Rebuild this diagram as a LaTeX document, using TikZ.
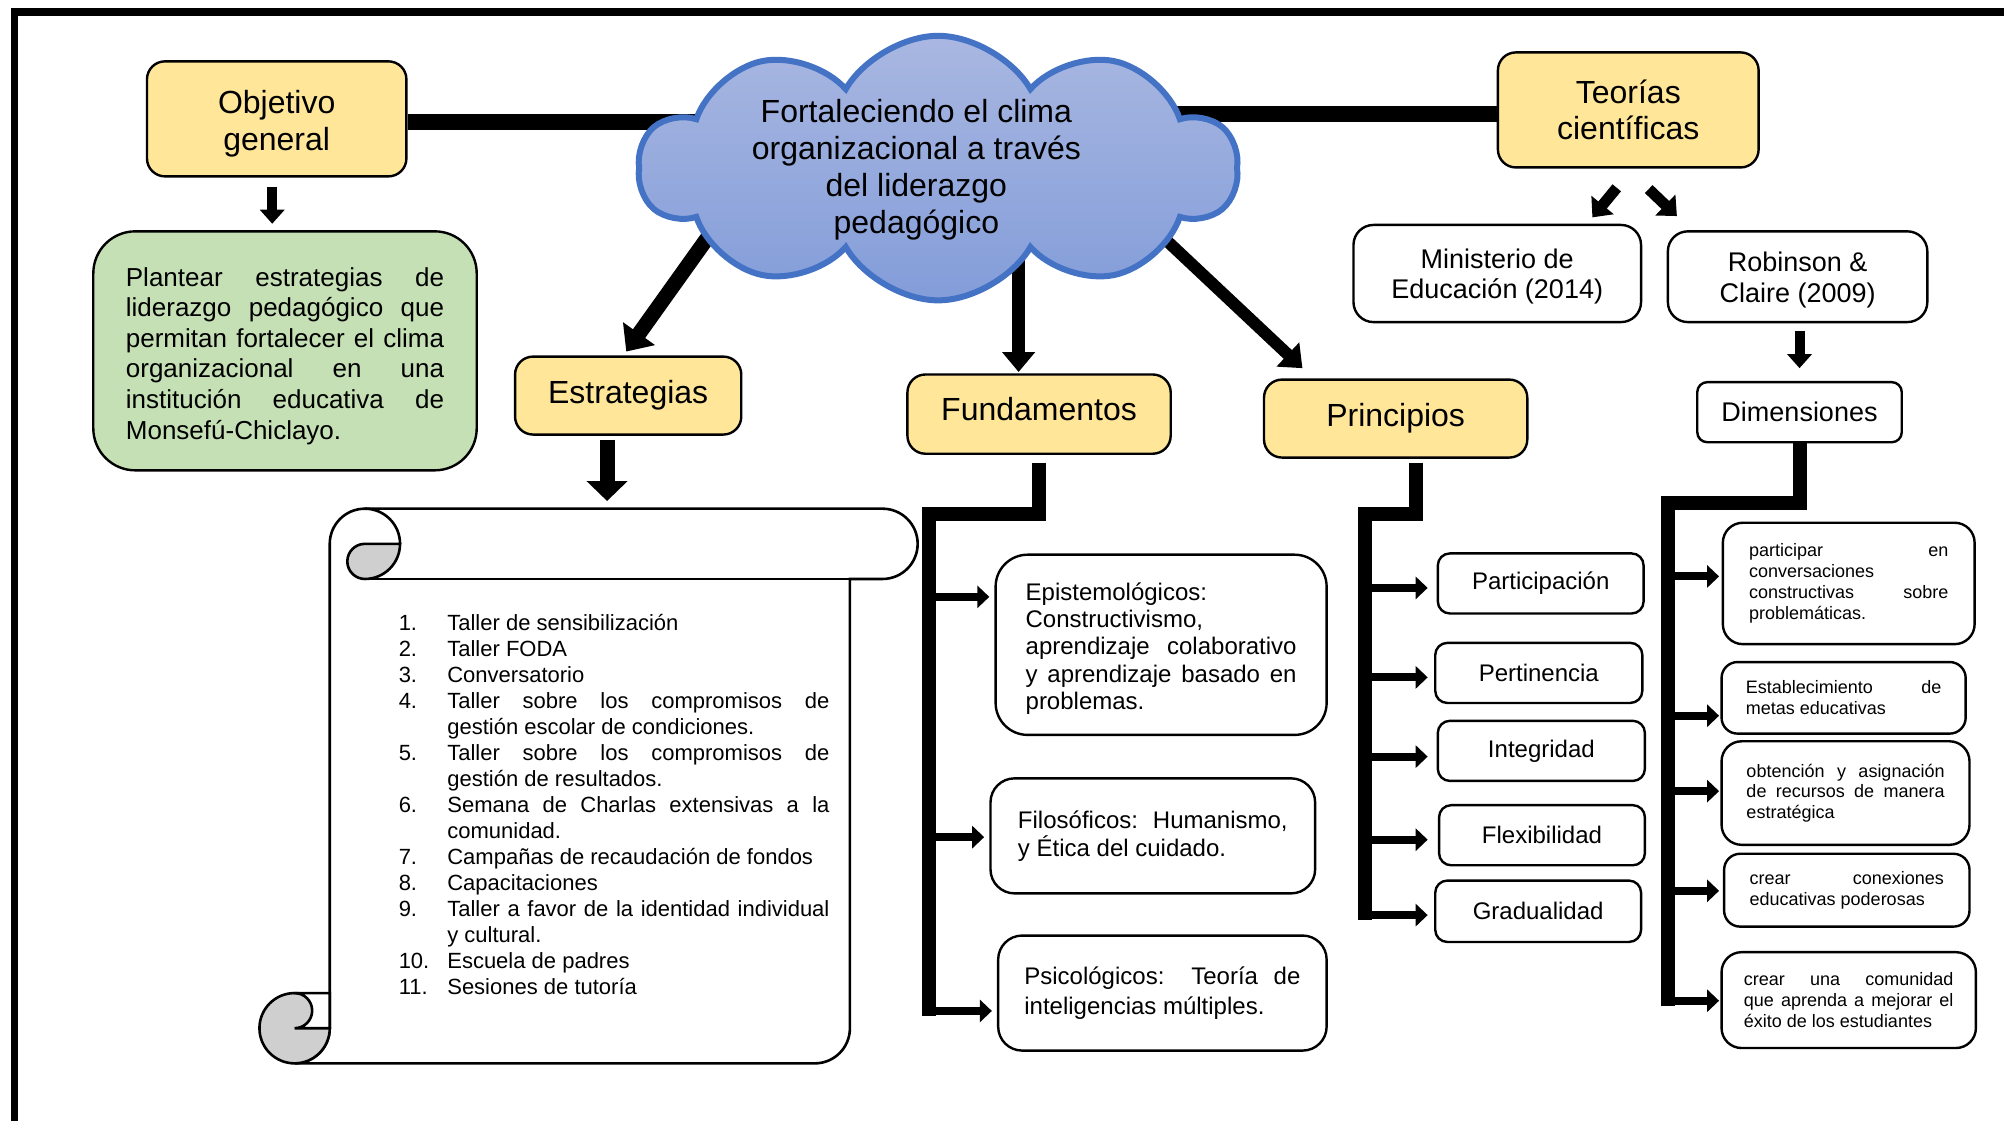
\documentclass[tikz,border=0pt]{standalone}
\usepackage{fontspec}
\setmainfont{Liberation Sans}
\usetikzlibrary{shapes.symbols,arrows.meta,calc}
\setlength\parindent{0pt}
\definecolor{yel}{HTML}{FFE699}
\definecolor{grn}{HTML}{C5E0B4}
\definecolor{cloudline}{HTML}{4472C4}
\definecolor{cloudtop}{HTML}{A9B7E1}
\definecolor{cloudbot}{HTML}{839DD9}
\definecolor{curl}{HTML}{CFCFCF}
\newcommand\fsz[2]{\fontsize{#1}{#2}\selectfont}
\newcommand\pxu{0.639pt}
\newcommand\itm[2]{\par\noindent\hangindent=24.3pt\hangafter=1\makebox[24.3pt][l]{#1}#2\par}
\tikzset{
  ybox/.style={draw, line width=1.2pt, rounded corners=9pt, fill=yel, align=center, inner sep=0pt},
  wbox/.style={draw, line width=1.2pt, rounded corners=#1, fill=white, inner sep=0pt},
  wbox/.default=6pt,
  jtext/.style={align=justify},
  link/.style={line width=8pt},
  bigarrow/.style={line width=6.5pt, -{Triangle[length=10pt,width=16pt]}},
  midarrow/.style={line width=5pt, -{Triangle[length=7pt,width=12pt]}},
  brk/.style={line width=7pt},
  branch/.style={line width=4pt, -{Triangle[length=6pt,width=11pt]}},
  scrollline/.style={line width=1.3pt},
}
\begin{document}
\begin{tikzpicture}[x=0.639pt,y=0.639pt]
\useasboundingbox (0,0) rectangle (1568,-877);
\fill[white] (0,0) rectangle (1568,-877);
\draw[line width=3.85pt] (11.3,-900) -- (11.3,-9.4) -- (1600,-9.4);

% yellow title boxes
\node[ybox, minimum width=203*\pxu, minimum height=90*\pxu, font=\fsz{16}{18.5}] (obj) at (216.5,-93) {\rule{0pt}{16.8pt}Objetivo\\general};
\node[ybox, minimum width=204*\pxu, minimum height=90*\pxu, font=\fsz{16}{18}] (teor) at (1274,-86) {Teorías\\científicas};
\node[ybox, minimum width=177*\pxu, minimum height=61*\pxu, font=\fsz{16}{18}] (estr) at (491.5,-309.5) {Estrategias};
\node[ybox, minimum width=206*\pxu, minimum height=62*\pxu, text depth=5pt, font=\fsz{16}{18}] (fund) at (813,-324) {Fundamentos};
\node[ybox, minimum width=206*\pxu, minimum height=61*\pxu, font=\fsz{16}{18}] (prin) at (1092,-327.5) {Principios};

% goal
\node[draw, line width=1.2pt, rounded corners=21pt, fill=grn, inner sep=0pt, minimum width=300*\pxu, minimum height=187*\pxu, text width=249*\pxu, jtext, font=\fsz{13}{15.3}] (goal) at (223,-274.5)
 {\rule{0pt}{14.5pt}Plantear estrategias de\linebreak liderazgo pedagógico que\linebreak permitan fortalecer el clima\linebreak organizacional en una\linebreak institución educativa de\linebreak Monsefú-Chiclayo.};

% theory boxes
\node[wbox=10pt, align=center, minimum width=225*\pxu, minimum height=76*\pxu, font=\fsz{13.5}{15.3}] (min) at (1171.5,-214) {\rule{0pt}{12.8pt}Ministerio de\\Educación (2014)};
\node[wbox=10pt, align=center, minimum width=203*\pxu, minimum height=71*\pxu, font=\fsz{13.5}{15.3}] (rob) at (1406.5,-216.5) {\rule{0pt}{12.8pt}Robinson \&\\Claire (2009)};
\node[wbox=5pt, align=center, minimum width=160*\pxu, minimum height=47*\pxu, font=\fsz{13.5}{15.3}] (dim) at (1408,-322.5) {Dimensiones};

% fundamentos children
\node[wbox=16pt, minimum width=259*\pxu, minimum height=141*\pxu, text width=212*\pxu, jtext, font=\fsz{12}{13.7}] (epi) at (908.5,-504.5)
 {\rule{0pt}{12.5pt}Epistemológicos:\newline Constructivismo,\newline aprendizaje colaborativo\linebreak y aprendizaje basado en\linebreak problemas.};
\node[wbox=12pt, minimum width=254*\pxu, minimum height=90*\pxu, text width=211*\pxu, jtext, font=\fsz{12}{14}] (fil) at (902,-654)
 {Filosóficos: Humanismo,\linebreak y Ética del cuidado.};
\node[wbox=12pt, minimum width=257*\pxu, minimum height=90*\pxu, text width=216*\pxu, jtext, font=\fsz{12}{15.3}] (psi) at (909.5,-777)
 {Psicológicos: Teoría de\linebreak inteligencias múltiples.};

% principios children
\node[wbox=6pt, minimum width=161*\pxu, minimum height=47*\pxu, font=\fsz{12}{14}] (p1) at (1205.5,-456.5) {Participación};
\node[wbox=6pt, minimum width=162*\pxu, minimum height=47*\pxu, font=\fsz{12}{14}] (p2) at (1204,-526.5) {Pertinencia};
\node[wbox=6pt, minimum width=162*\pxu, minimum height=47*\pxu, font=\fsz{12}{14}] (p3) at (1206,-587.5) {Integridad};
\node[wbox=6pt, minimum width=161*\pxu, minimum height=47*\pxu, font=\fsz{12}{14}] (p4) at (1206.5,-653.5) {Flexibilidad};
\node[wbox=6pt, minimum width=161*\pxu, minimum height=48*\pxu, font=\fsz{12}{14}] (p5) at (1203.5,-713) {Gradualidad};

% dimensiones children
\node[wbox=10pt, minimum width=197*\pxu, minimum height=95*\pxu, text width=156*\pxu, jtext, font=\fsz{9}{10.4}] (d1) at (1446.5,-456.5)
 {participar en\linebreak conversaciones\newline constructivas sobre\linebreak problemáticas.};
\node[wbox=8pt, minimum width=191*\pxu, minimum height=56*\pxu, text width=153*\pxu, jtext, font=\fsz{9}{10.4}] (d2) at (1442.5,-546)
 {Establecimiento de\linebreak metas educativas};
\node[wbox=10pt, minimum width=194*\pxu, minimum height=81*\pxu, text width=155*\pxu, jtext, font=\fsz{9}{10.4}] (d3) at (1444,-620.5)
 {obtención y asignación\linebreak de recursos de manera\linebreak estratégica};
\node[wbox=8pt, minimum width=192*\pxu, minimum height=57*\pxu, text width=152*\pxu, jtext, font=\fsz{9}{10.4}] (d4) at (1445,-696.5)
 {crear conexiones\linebreak educativas poderosas};
\node[wbox=10pt, minimum width=199*\pxu, minimum height=75*\pxu, text width=164*\pxu, jtext, font=\fsz{9}{10.4}] (d5) at (1446.5,-782.5)
 {crear una comunidad\linebreak que aprenda a mejorar el\linebreak éxito de los estudiantes};

% links to the cloud (cloud drawn over them)
\coordinate (cc) at (734,-131.5);
\coordinate (cs1) at (565,-170);
\coordinate (cs2) at (797,-200);
\coordinate (cs3) at (870,-148);
\draw[link] ($(obj.east)+(0,-2.5)$) -- ($(obj.east -| cc)+(0,-2.5)$);
\draw[link] ($(teor.west)+(0,-3)$) -- ($(teor.west -| cc)+(0,-3)$);
\draw[bigarrow, line width=7.5pt, -{Triangle[length=11pt,width=19pt]}] (cs1) -- ($(estr.north)+(-1.5,3)$);
\draw[bigarrow] (cs2) -- ($(fund.north)+(-16,1)$);
\draw[bigarrow, line width=6pt] (cs3) -- ($(prin.north west)+(31,8)$);

% cloud
\node[cloud, cloud puffs=10, cloud puff arc=120, cloud ignores aspect, minimum width=468*\pxu, minimum height=207*\pxu,
      draw=cloudline, line width=3pt, top color=cloudtop, bottom color=cloudbot] (cloud) at (cc) {};
\node[align=center, font=\fsz{16}{18.5}] (ctext) at (717,-133) {Fortaleciendo el clima\\organizacional a través\\del liderazgo\\pedagógico};

% scroll
\begin{scope}[scrollline]
 \filldraw[fill=white] (258,-425.5) -- (258,-804.5) arc[start angle=0,end angle=-90,radius=27.5] -- (637.5,-832)
   arc[start angle=-90,end angle=0,radius=27.5] -- (665,-453) -- (690.5,-453) arc[start angle=-90,end angle=90,radius=27.5]
   -- (285.5,-398) arc[start angle=90,end angle=180,radius=27.5] -- cycle;
 \draw (285.5,-453) -- (690.5,-453);
 \draw (285.5,-398) arc[start angle=90,end angle=0,radius=27.5];
 \filldraw[fill=curl] (285.5,-425.5) -- (313,-425.5) arc[start angle=0,end angle=-90,radius=27.5]
   arc[start angle=-90,end angle=-270,radius=13.75] -- cycle;
 \filldraw[fill=curl] (230.5,-804.5) circle[radius=27.5];
 \filldraw[fill=white] (230.5,-777) -- (258,-777) -- (258,-804.5) -- (230.5,-804.5)
   arc[start angle=-90,end angle=90,radius=13.75] -- cycle;
\end{scope}
\coordinate (scrolltop) at (475,-398);
\node[inner sep=0pt, text width=337*\pxu, jtext, font=\fsz{11}{13}] (list) at (480.5,-626) {%
\itm{1.}{Taller de sensibilización}
\itm{2.}{Taller FODA}
\itm{3.}{Conversatorio}
\itm{4.}{Taller sobre los compromisos de\linebreak gestión escolar de condiciones.}
\itm{5.}{Taller sobre los compromisos de\linebreak gestión de resultados.}
\itm{6.}{Semana de Charlas extensivas a la\linebreak comunidad.}
\itm{7.}{Campañas de recaudación de fondos}
\itm{8.}{Capacitaciones}
\itm{9.}{Taller a favor de la identidad individual\linebreak y cultural.}
\itm{10.}{Escuela de padres}
\itm{11.}{Sesiones de tutoría}};

% vertical arrows
\draw[midarrow] ($(obj.south)+(-3.5,-7)$) -- ($(obj.south |- goal.north)+(-3.5,5)$);
\draw[bigarrow, line width=7.5pt, -{Triangle[length=10pt,width=20pt]}] ($(estr.south)+(-16.5,-3)$) -- ($(scrolltop)+(0,6)$);
\draw[midarrow] ($(rob.south)+(1.5,-6)$) -- ($(dim.north)+(0,10)$);
\draw[midarrow, line width=5.5pt, -{Triangle[length=8pt,width=14pt]}] ($(teor.south)+(-9,-15)$) -- ($(min.north east)+(-39,5)$);
\draw[midarrow, line width=5.5pt, -{Triangle[length=8pt,width=14pt]}] ($(teor.south)+(16,-16)$) -- ($(rob.north west)+(8,11)$);

% brackets
\coordinate (fb) at (727,-795);
\coordinate (pb) at (1068,-720);
\coordinate (db) at (1305,-787);
\draw[brk] ($(fund.south)+(0,-6)$) -- ($(fund.south)+(0,-46)$) -| (fb);
\draw[brk] ($(prin.south)+(16,-3)$) -- ($(prin.south)+(16,-43)$) -| (pb);
\draw[brk] ($(dim.south)+(0,0)$) -- ($(dim.south)+(0,-47)$) -| (db);

\coordinate (ea) at ($(epi.west)+(-4,37.5)$);
\coordinate (fa) at ($(fil.west)+(-4,-1)$);
\coordinate (pa) at ($(psi.west)+(-4,-14)$);
\foreach \t in {ea,fa,pa} \draw[branch] (fb |- \t) -- (\t);

\coordinate (a1) at ($(p1.west)+(-7,-3.5)$);
\coordinate (a2) at ($(p2.west)+(-5,-3.5)$);
\coordinate (a3) at ($(p3.west)+(-7,-4.5)$);
\coordinate (a4) at ($(p4.west)+(-8,-3.5)$);
\coordinate (a5) at ($(p5.west)+(-5,-3)$);
\foreach \t in {a1,a2,a3,a4,a5} \draw[branch] ([xshift=4*\pxu]pb |- \t) -- (\t);

\coordinate (b1) at ($(d1.west)+(-2,5.5)$);
\coordinate (b2) at ($(d2.west)+(-1,-14)$);
\coordinate (b3) at ($(d3.west)+(-1,1.5)$);
\coordinate (b4) at ($(d4.west)+(-3,-0.5)$);
\coordinate (b5) at ($(d5.west)+(-1,-0.5)$);
\foreach \t in {b1,b2,b3,b4,b5} \draw[branch] (db |- \t) -- (\t);
\end{tikzpicture}
\end{document}
